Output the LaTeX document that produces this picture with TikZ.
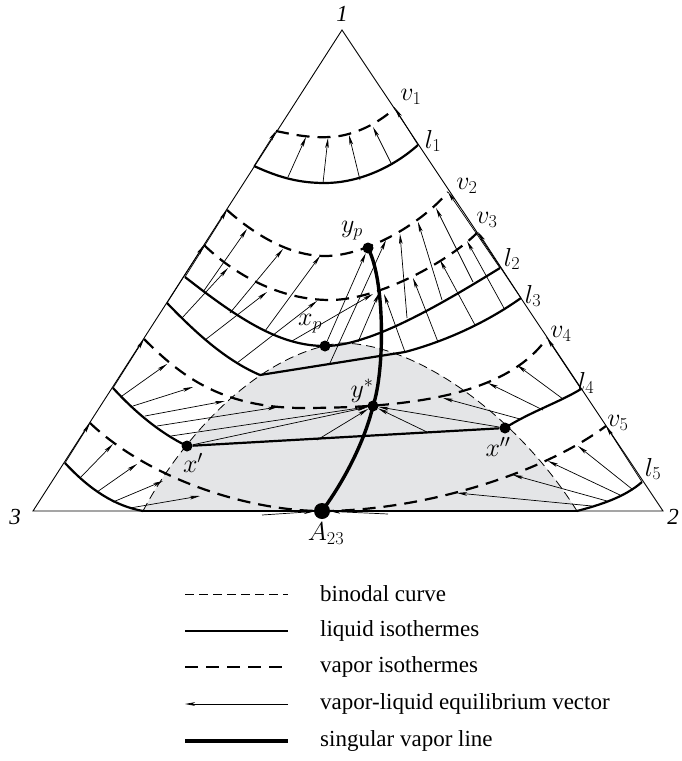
\documentclass[tikz,border=0pt]{standalone}
\usepackage{fix-cm}
\usepackage{fontspec}
\setmainfont{Liberation Serif}
\usetikzlibrary{arrows.meta}
\definecolor{binfill}{RGB}{228,229,231}
\tikzset{
	liq/.style={line width=2.2pt},
	vap/.style={line width=2.2pt,dash pattern=on 13pt off 8pt},
	bino/.style={line width=0.8pt,dash pattern=on 9pt off 5pt},
	vec/.style={line width=0.7pt,-{Stealth[length=10pt,width=3.6pt,inset=2.5pt]}},
	sing/.style={line width=3.4pt},
	dot/.style={circle,fill=black,inner sep=0pt,minimum size=11pt},
	lab/.style={font=\fontsize{26}{30}\selectfont},
	vtx/.style={font=\fontsize{23}{26}\selectfont\itshape},
	leg/.style={anchor=west,inner sep=0pt,font=\fontsize{23}{28}\selectfont},
}
\begin{document}
\begin{tikzpicture}[x=1pt,y=-1pt]
	\useasboundingbox (0,0) rectangle (681,761);

	%Two-phase region
	\fill[binfill] (143,511) .. controls (175,450) and (250,355) .. (340,343) .. controls (420,343) and (520,420) .. (577,511) -- cycle;
	\draw[bino] (143,511) .. controls (175,450) and (250,355) .. (340,343) .. controls (420,343) and (520,420) .. (577,511);

	%Triangle
	\coordinate (a1) at (342,30);
	\coordinate (a2) at (663,511);
	\coordinate (a3) at (33,511);
	\draw[line width=0.9pt] (a3)--(a1)--(a2)--cycle;
	\node[vtx] at (342,14) (n1) {1};
	\node[vtx] at (15,517) (n3) {3};
	\node[vtx] at (673,517) (n2) {2};

	%Special points
	\node[dot] at (368,248) (yp) {};
	\node[dot] at (325,346) (xp) {};
	\node[dot] at (373,406) (ys) {};
	\node[dot] at (187,446) (xq) {};
	\node[dot] at (505,428) (xqq) {};
	\node[dot,minimum size=16pt] at (322,511) (a23) {};

	%Vectors l1 -> v1
	\foreach \a/\b/\c/\d in {254/166/276/131, 288/177/306/137, 323/183/328/138, 360/180/349/135, 392/165/373/127, 418/145/395/108}
		\draw[vec] (\a,\b)--(\c,\d);
	%Vectors l2 -> v2
	\foreach \a/\b/\c/\d in {185/277/227/210, 203/292/247/229, 230/313/283/249, 265/331/320/256, 407/318/400/234, 442/300/418/222, 473/282/436/208, 500/268/448/192, 330/363/386/240}
		\draw[vec] (\a,\b)--(\c,\d);
	\draw[vec] (xp)--(yp);
	%Vectors l3 -> v3
	\foreach \a/\b/\c/\d in {167/303/204/245, 182/318/228/268, 205/340/267/292, 237/363/317/301, 292/341/373/294, 358/342/379/293, 405/352/384/294, 438/342/413/278, 475/325/440/260, 505/310/467/241, 521/298/478/232}
		\draw[vec] (\a,\b)--(\c,\d);
	%Vectors l4 -> v4
	\foreach \a/\b/\c/\d in {113/388/144/339, 122/396/167/364, 133/406/193/387, 145/416/225/401, 157/426/278/407, 520/419/443/398, 543/410/488/383, 563/399/517/365, 581/389/547/338}
		\draw[vec] (\a,\b)--(\c,\d);
	\foreach \a/\b in {171/436, 317/440, 427/432}
		\draw[vec] (\a,\b)--(ys);
	\draw[vec] (xq)--(ys);
	\draw[vec] (xqq)--(ys);
	%Vectors l5 -> v5
	\foreach \a/\b/\c/\d in {65/463/90/423, 80/478/113/444, 97/492/137/464, 113/502/163/481, 130/508/200/496, 592/506/457/493, 607/501/513/475, 620/495/548/461, 632/489/578/446, 642/482/606/426}
		\draw[vec] (\a,\b)--(\c,\d);
	\draw[vec] (262,515)--(a23);
	\draw[vec] (388,514)--(a23);

	%Vapor isothermes
	\draw[vap] (276,131) .. controls (295,135) and (310,138) .. (330,137) .. controls (355,136) and (380,122) .. (395,108);
	\draw[vap] (227,210) .. controls (255,235) and (290,256) .. (325,256) .. controls (365,256) and (420,225) .. (448,192);
	\draw[vap] (204,245) .. controls (235,275) and (280,300) .. (330,300) .. controls (380,300) and (450,260) .. (477,233);
	\draw[vap] (144,339) .. controls (180,375) and (220,407) .. (300,408) .. controls (400,408) and (505,398) .. (547,338);
	\draw[vap] (90,423) .. controls (150,480) and (250,511) .. (322,511) .. controls (420,511) and (540,475) .. (606,426);

	%Liquid isothermes
	\draw[liq] (254,166) .. controls (280,178) and (300,183) .. (325,183) .. controls (355,183) and (390,170) .. (418,145);
	\draw[liq] (185,277) .. controls (240,320) and (280,346) .. (xp.center) .. controls (370,346) and (440,305) .. (500,268);
	\draw[liq] (167,303) .. controls (195,332) and (225,360) .. (260,375);
	\draw[liq] (260,375)--(405,352);
	\draw[liq] (405,352) .. controls (450,340) and (490,320) .. (521,298);
	\draw[liq] (113,388) .. controls (135,412) and (160,433) .. (xq.center);
	\draw[liq] (xq)--(xqq);
	\draw[liq] (xqq.center) .. controls (530,412) and (560,402) .. (581,389);
	\draw[liq] (65,463) .. controls (90,490) and (115,506) .. (143,511);
	\draw[liq] (143,511)--(577,511);
	\draw[liq] (577,511) .. controls (600,505) and (625,497) .. (642,482);

	%Singular vapor line
	\draw[sing] (yp.center) .. controls (385,280) and (385,370) .. (ys.center) .. controls (365,440) and (345,480) .. (a23.center);

	%Labels
	\node[lab] at (411,97) (lv1) {$v_1$};
	\node[lab] at (433,141) (ll1) {$l_1$};
	\node[lab] at (467,186) (lv2) {$v_2$};
	\node[lab] at (487,220) (lv3) {$v_3$};
	\node[lab] at (512,259) (ll2) {$l_2$};
	\node[lab] at (533,296) (ll3) {$l_3$};
	\node[lab] at (561,334) (lv4) {$v_4$};
	\node[lab] at (586,383) (ll4) {$l_4$};
	\node[lab] at (618,423) (lv5) {$v_5$};
	\node[lab] at (653,469) (ll5) {$l_5$};
	\node[lab] at (352,231) (lyp) {$y_p$};
	\node[lab] at (310,324) (lxp) {$x_p$};
	\node[lab] at (362,391) (lys) {$y^*$};
	\node[lab] at (193,463) (lxq) {$x'$};
	\node[lab] at (498,447) (lxqq) {$x''$};
	\node[lab] at (326,534) (la23) {$A_{23}$};

	%Legend
	\draw[bino] (185,594)--(288,594);
	\node[leg] at (320,594) (t1) {binodal curve};
	\draw[liq] (185,631)--(288,631);
	\node[leg] at (320,631) (t2) {liquid isothermes};
	\draw[vap] (185,667)--(288,667);
	\node[leg] at (320,667) (t3) {vapor isothermes};
	\draw[vec] (288,704)--(185,704);
	\node[leg] at (320,704) (t4) {vapor-liquid equilibrium vector};
	\draw[sing] (185,741)--(288,741);
	\node[leg] at (320,741) (t5) {singular vapor line};
\end{tikzpicture}
\end{document}
